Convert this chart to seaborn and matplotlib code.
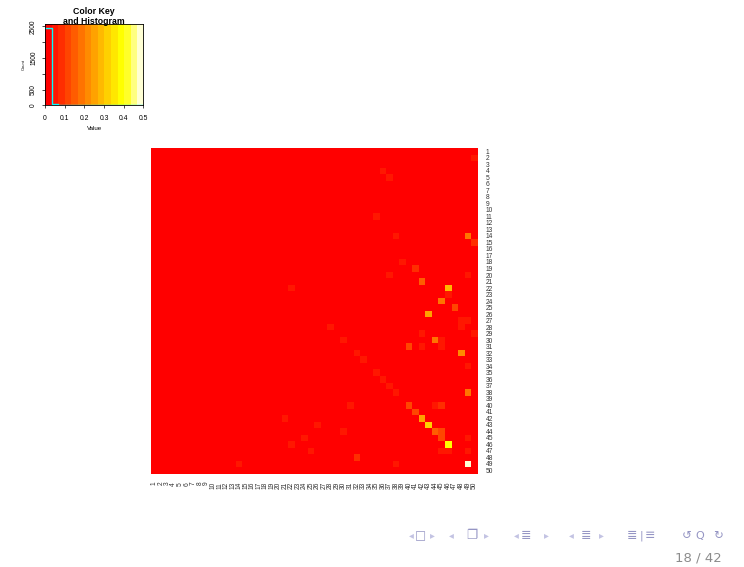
import numpy as np
import pandas as pd
import matplotlib
matplotlib.use("Agg")
import matplotlib.pyplot as plt
from matplotlib.colors import ListedColormap, hsv_to_rgb
import seaborn as sns

# ---- data -------------------------------------------------------------
n_items = 50
row_labels = [str(i) for i in range(1, n_items + 1)]
col_labels = [str(i) for i in range(1, n_items + 1)]

# weak entries (row, column), all with the same small value
weak_rows = [2, 4, 5, 11, 14, 18, 20, 20, 22, 23, 27, 27, 28, 28, 29, 29, 30, 30,
             31, 31, 32, 33, 34, 35, 36, 37, 38, 40, 40, 42, 43, 44, 45, 45, 46,
             47, 47, 47, 47, 49, 49]
weak_cols = [50, 36, 37, 35, 38, 39, 37, 49, 22, 46, 48, 49, 28, 48, 42, 50, 30, 45,
             42, 45, 32, 33, 49, 35, 36, 37, 38, 31, 44, 21, 26, 30, 24, 49, 22,
             25, 45, 46, 49, 14, 38]
weak_value = 0.05

# stronger entries
strong_rows = [14, 15, 19, 21, 22, 24, 25, 26, 30, 31, 32, 38, 40, 40, 41, 42,
               43, 44, 44, 45, 46, 48, 49]
strong_cols = [49, 50, 41, 42, 46, 45, 47, 43, 44, 40, 48, 49, 40, 45, 41, 42,
               43, 44, 45, 45, 46, 32, 49]
strong_values = [0.19, 0.08, 0.08, 0.15, 0.29, 0.18, 0.11, 0.25, 0.18, 0.11, 0.20,
                 0.18, 0.11, 0.09, 0.10, 0.24, 0.31, 0.16, 0.10, 0.10, 0.38, 0.09,
                 0.50]

key_ticks = [0, 0.1, 0.2, 0.3, 0.4, 0.5]
count_ticks = [0, 500, 1000, 1500, 2000, 2500]
count_tick_labels = ["0", "500", "", "1500", "", "2500"]

# ---- matrix -------------------------------------------------------------
mat = np.zeros((n_items, n_items))
for r, c in zip(weak_rows, weak_cols):
    mat[r - 1, c - 1] = weak_value
for r, c, v in zip(strong_rows, strong_cols, strong_values):
    mat[r - 1, c - 1] = v
df = pd.DataFrame(mat, index=row_labels, columns=col_labels)


def heat_colors(k):
    """R-style heat.colors palette."""
    j = k // 4
    i = k - j
    cols = [hsv_to_rgb((h, 1.0, 1.0)) for h in np.linspace(0, 1 / 6, i)]
    if j > 0:
        sats = np.linspace(1 - 1 / (2 * j), 1 / (2 * j), j)
        cols += [hsv_to_rgb((1 / 6, s, 1.0)) for s in sats]
    return cols


n_col = 15
vmin, vmax = 0.0, 0.5
cmap = ListedColormap(heat_colors(n_col))
breaks = np.linspace(vmin, vmax, n_col + 1)

# ---- figure -------------------------------------------------------------
W, H = 744, 567
fig = plt.figure(figsize=(W / 100, H / 100), dpi=100)
fig.patch.set_facecolor("white")
rfont = "Liberation Sans"


def box(x0, y0, x1, y1):
    return [x0 / W, 1 - y1 / H, (x1 - x0) / W, (y1 - y0) / H]


# main heatmap
ax = fig.add_axes(box(151, 148, 477.7, 473.7))
sns.heatmap(df, ax=ax, cmap=cmap, vmin=vmin, vmax=vmax, cbar=False,
            xticklabels=col_labels, yticklabels=row_labels)
ax.yaxis.tick_right()
ax.tick_params(axis="both", length=0, pad=5.8, colors="#333333")
ax.set_yticklabels(row_labels, rotation=0, fontfamily=rfont, fontsize=4.8,
                   ha="left")
ax.set_xticklabels(col_labels, rotation=90, fontfamily=rfont, fontsize=4.8,
                   va="top")
ax.set_xlabel("")
ax.set_ylabel("")

# colour key with histogram
kax = fig.add_axes(box(45, 24.3, 143.3, 105.3))
counts, _ = np.histogram(mat.ravel(), bins=breaks)
ymax = counts.max() / 0.95
kax.imshow(np.linspace(vmin, vmax, n_col * 20).reshape(1, -1), cmap=cmap,
           vmin=vmin, vmax=vmax, aspect="auto", extent=[vmin, vmax, 0, ymax],
           interpolation="nearest")
hist_df = pd.DataFrame({"value": breaks, "count": np.append(counts, counts[-1])})
sns.lineplot(data=hist_df, x="value", y="count", drawstyle="steps-post",
             color="cyan", lw=1.0, ax=kax)
kax.set_xlim(vmin, vmax)
kax.set_ylim(0, ymax)
kax.set_xticks(key_ticks)
kax.set_xticklabels([f"{t:g}" for t in key_ticks], fontfamily=rfont, fontsize=4.9)
kax.set_yticks(count_ticks)
kax.set_yticklabels(count_tick_labels, rotation=90, va="center",
                    fontfamily=rfont, fontsize=4.7)
kax.tick_params(axis="both", length=2.2, width=0.5, pad=4.5, colors="black")
kax.tick_params(axis="y", pad=3.5)
kax.set_xlabel("Value", fontfamily=rfont, fontsize=4.4, labelpad=3.5)
kax.set_ylabel("Count", fontfamily=rfont, fontsize=3.0, labelpad=3)
for s in kax.spines.values():
    s.set_linewidth(0.6)
    s.set_color("black")

fig.text(94 / W, 1 - 11 / H, "Color Key", ha="center", va="center",
         fontweight="bold", fontsize=6.3, fontfamily=rfont)
fig.text(94 / W, 1 - 21.5 / H, "and Histogram", ha="center", va="center",
         fontweight="bold", fontsize=6.3, fontfamily=rfont)

# slide navigation bar and frame counter
nav_icon = "#9595c4"
nav_dim = "#c3c3e3"
nav_items = [
    (411, "◂", nav_dim, 7), (420, "□", nav_icon, 8.5), (432.7, "▸", nav_dim, 7),
    (451.7, "◂", nav_dim, 7), (471.7, "❐", nav_icon, 9), (486.7, "▸", nav_dim, 7),
    (516.7, "◂", nav_dim, 7), (526, "≣", nav_icon, 9), (546.7, "▸", nav_dim, 7),
    (571.7, "◂", nav_dim, 7), (586, "≣", nav_icon, 9), (601.7, "▸", nav_dim, 7),
    (631.7, "≣", nav_icon, 9), (641.7, "|", nav_icon, 8), (650, "≡", nav_icon, 9),
    (686.7, "↺", nav_icon, 8.5), (700, "Q", nav_icon, 8), (717.7, "↻", nav_icon, 8.5),
]
for x, g, col, fs in nav_items:
    fig.text(x / W, 1 - 535.5 / H, g, ha="center", va="center", fontsize=fs,
             color=col, fontfamily="DejaVu Sans")
fig.text(722 / W, 1 - 558 / H, "18 / 42", ha="right", va="center",
         fontsize=9.5, color="#8c8c8c", fontfamily="DejaVu Sans")

fig.savefig("out.png", dpi=100, facecolor="white")
